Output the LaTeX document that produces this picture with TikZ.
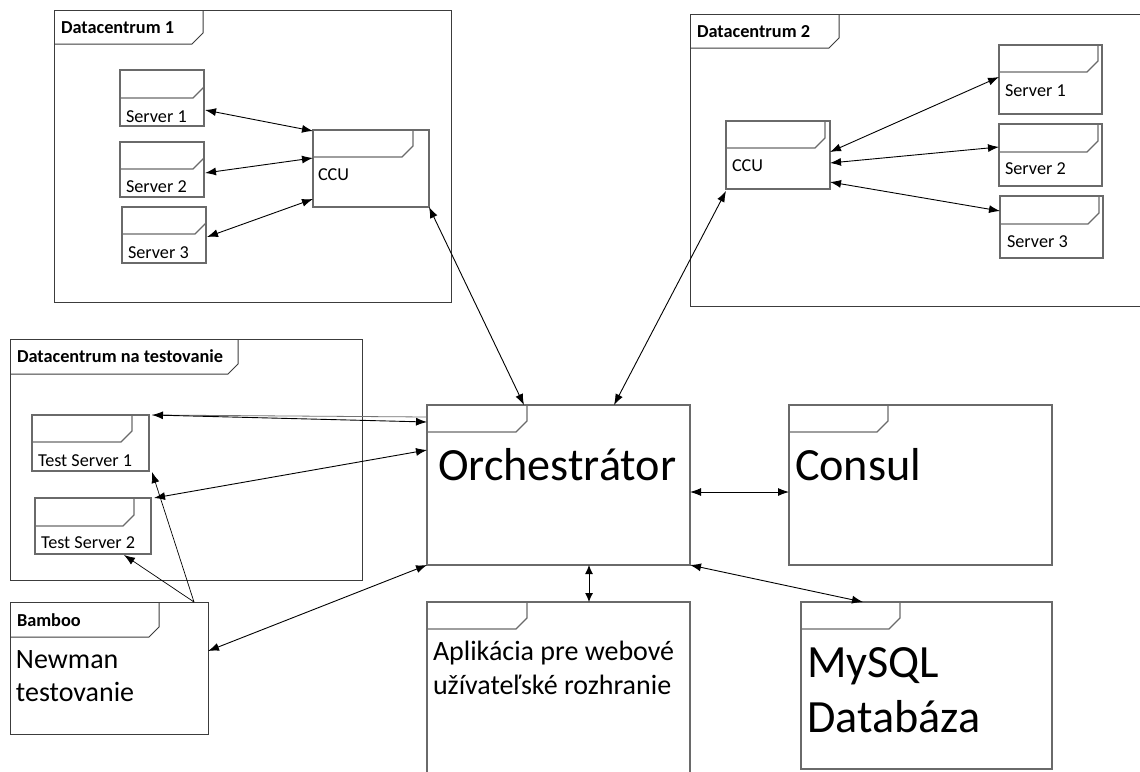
\documentclass[tikz,border=0pt]{standalone}
\usepackage{fontspec}
\setmainfont{Carlito}
\usetikzlibrary{arrows.meta,calc}
\definecolor{framecol}{HTML}{3C3C3C}
\definecolor{boxcol}{HTML}{6A6A6A}
\tikzset{
  frame/.style={draw=framecol, line width=1pt, rectangle, inner sep=0pt, outer sep=0pt, anchor=north west},
  tbox/.style={draw=boxcol, line width=1.2pt, rectangle, inner sep=0pt, outer sep=0pt, anchor=north west},
  frameline/.style={draw=framecol, line width=1pt},
  tabline/.style={draw=boxcol, line width=1.2pt},
  arr/.style={black, line width=0.9pt, {Latex[length=11pt,width=8pt]}-{Latex[length=11pt,width=8pt]}},
  arrone/.style={black, line width=0.9pt, -{Latex[length=11pt,width=8pt]}},
  thinline/.style={black!55, line width=0.8pt},
  lbl/.style={inner sep=0pt, outer sep=0pt, anchor=base west, font=\fontsize{18.2}{22}\selectfont},
  flbl/.style={inner sep=0pt, outer sep=0pt, anchor=base west, font=\fontsize{18.3}{22}\selectfont\bfseries},
  midlbl/.style={inner sep=0pt, outer sep=0pt, anchor=base west, font=\fontsize{28}{33}\selectfont},
  biglbl/.style={inner sep=0pt, outer sep=0pt, anchor=base west, font=\fontsize{46.2}{55}\selectfont},
}
\newcommand\pbox[6]{%
  \pgfmathsetlengthmacro\bw{#5-#3}%
  \pgfmathsetlengthmacro\bh{#6-#4}%
  \node[#1, minimum width=\bw, minimum height=\bh] (#2) at (#3,#4) {};}
\newcommand\ptab[5]{%
  \draw[#1] (#2.north west) ++(#3,0) -- ++(0,{#4-#5}) -- ++({-#5},#5) -- ++({#5-#3},0);}
\begin{document}
\begin{tikzpicture}[x=1pt,y=-1pt]
\useasboundingbox[fill=white] (0,0) rectangle (1140,771);
\clip (0,0) rectangle (1140,771);

% Datacentrum 1
\pbox{frame}{dc1}{54}{10}{451}{302}
\ptab{frameline}{dc1}{149}{34}{11}
\node[flbl] (dc1l) at (61,33) {Datacentrum 1};
\pbox{tbox}{s1a}{120}{70}{204}{126}
\ptab{tabline}{s1a}{84}{28}{11}
\node[lbl] (s1al) at (126,122) {Server 1};
\pbox{tbox}{s2a}{120}{142}{204}{197}
\ptab{tabline}{s2a}{84}{27}{11}
\node[lbl] (s2al) at (126,192) {Server 2};
\pbox{tbox}{s3a}{122}{207}{206}{263}
\ptab{tabline}{s3a}{84}{27}{11}
\node[lbl] (s3al) at (128,258) {Server 3};
\pbox{tbox}{ccu1}{313}{130}{429}{207}
\ptab{tabline}{ccu1}{100}{27}{11}
\node[lbl] (ccu1l) at (318,180) {CCU};

% Datacentrum 2
\pbox{frame}{dc2}{690}{14}{1160}{306}
\ptab{frameline}{dc2}{149}{34}{10}
\node[flbl] (dc2l) at (697,37) {Datacentrum 2};
\pbox{tbox}{ccu2}{726}{121}{830}{189}
\ptab{tabline}{ccu2}{99}{27}{10}
\node[lbl] (ccu2l) at (732,171) {CCU};
\pbox{tbox}{s1b}{999}{45}{1102}{114}
\ptab{tabline}{s1b}{99}{27}{11}
\node[lbl] (s1bl) at (1005,96) {Server 1};
\pbox{tbox}{s2b}{999}{124}{1102}{186}
\ptab{tabline}{s2b}{99}{28}{11}
\node[lbl] (s2bl) at (1005,174) {Server 2};
\pbox{tbox}{s3b}{1000}{196}{1103}{258}
\ptab{tabline}{s3b}{99}{28}{11}
\node[lbl] (s3bl) at (1007,247) {Server 3};

% Datacentrum na testovanie
\pbox{frame}{dct}{10}{339}{362}{580}
\ptab{frameline}{dct}{228}{35}{10}
\node[flbl] (dctl) at (17,362) {Datacentrum na testovanie};
\pbox{tbox}{ts1}{32}{415}{149}{471}
\ptab{tabline}{ts1}{100}{27}{11}
\node[lbl] (ts1l) at (38,466) {Test Server 1};
\pbox{tbox}{ts2}{35}{498}{151}{554}
\ptab{tabline}{ts2}{99}{28}{11}
\node[lbl] (ts2l) at (41,548) {Test Server 2};

% Bamboo
\pbox{frame}{bam}{10}{602}{208}{734}
\ptab{frameline}{bam}{149}{35}{10}
\node[flbl] (baml) at (17,626) {Bamboo};
\node[midlbl] (baml1) at (16,668) {Newman};
\node[midlbl] (baml2) at (16,701) {testovanie};

% Main boxes
\pbox{tbox}{orch}{427}{405}{690}{565}
\ptab{tabline}{orch}{100}{27}{11}
\node[biglbl] (orchl) at (438,480) {Orchestrátor};
\pbox{tbox}{consul}{789}{405}{1052}{565}
\ptab{tabline}{consul}{99}{27}{11}
\node[biglbl] (consull) at (795,480) {Consul};
\pbox{tbox}{app}{427}{602}{690}{790}
\ptab{tabline}{app}{100}{27}{11}
\node[midlbl] (appl1) at (433,660) {Aplikácia pre webové};
\node[midlbl] (appl2) at (433,694) {užívateľské rozhranie};
\pbox{tbox}{mysql}{801}{602}{1052}{769}
\ptab{tabline}{mysql}{99}{27}{11}
\node[biglbl] (mysqll1) at (807,677) {MySQL};
\node[biglbl] (mysqll2) at (807,732) {Databáza};

% Connectors DC1
\draw[arr] ($(s1a.east)+(1,12)$) -- ($(ccu1.north west)+(0,1)$);
\draw[arr] ($(s2a.east)+(1,3.5)$) -- ($(ccu1.west)+(0,-10.5)$);
\draw[arr] ($(s3a.east)+(1,2)$) -- ($(ccu1.west)+(0,30.5)$);
\draw[arr] (ccu1.south east) -- ($(orch.north west)+(97,0)$);

% Connectors DC2
\draw[arr] ($(ccu2.east)+(0,-3)$) -- ($(s1b.west)+(0,-2.5)$);
\draw[arr] ($(ccu2.east)+(0,8)$) -- ($(s2b.west)+(0,-8)$);
\draw[arr] ($(ccu2.east)+(0,27)$) -- ($(s3b.west)+(0,-16)$);
\draw[arr] ($(ccu2.south west)+(0,2)$) -- ($(orch.north west)+(187,0)$);

% Connectors test
\draw[thinline] ($(ts1.north east)+(3,0)$) -- ($(orch.west)+(0,-68)$);
\draw[arr] ($(ts1.north east)+(3,0)$) -- ($(orch.west)+(0,-63)$);
\draw[arr] ($(ts2.north east)+(3,0)$) -- ($(orch.west)+(0,-35)$);
\draw[arr] ($(bam.east)+(0,-17)$) -- (orch.south west);
\draw[arrone, line width=0.7pt] ($(bam.north east)+(-14,0)$) -- ($(ts1.south east)+(3,1)$);
\draw[arrone, line width=0.7pt] ($(bam.north east)+(-14,0)$) -- ($(ts2.south)+(31,1)$);

% Connectors main
\draw[arr] ($(orch.east)+(0,7)$) -- ($(consul.west)+(0,7)$);
\draw[arr] (orch.south east) -- ($(mysql.north west)+(62,0)$);
\draw[arr, {Latex[length=9pt,width=8pt]}-{Latex[length=9pt,width=8pt]}] ($(orch.south)+(30.5,0)$) -- ($(app.north)+(30.5,0)$);
\end{tikzpicture}
\end{document}
